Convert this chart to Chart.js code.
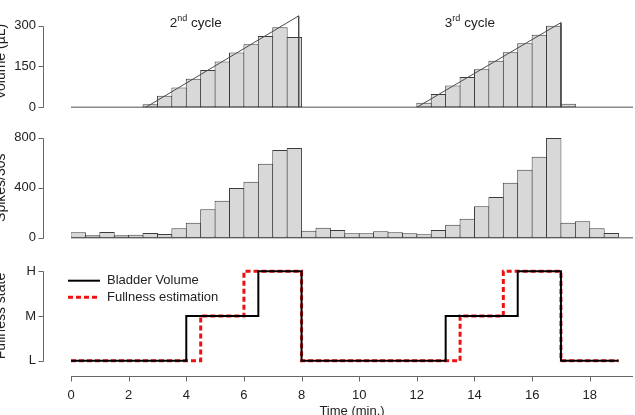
<!DOCTYPE html>
<html>
<head>
<meta charset="utf-8">
<script src="https://cdn.jsdelivr.net/npm/chart.js@4.4.1/dist/chart.umd.min.js"></script>
<style>
  html, body { margin: 0; padding: 0; background: #fff; overflow: hidden; }
  #wrap { position: relative; width: 635px; height: 415px; }
  .panel { position: absolute; left: 0; width: 635px; }
</style>
</head>
<body>
<div id="wrap">
  <div class="panel" style="top:0"><canvas id="volumeChart" width="635" height="125"></canvas></div>
  <div class="panel" style="top:125px"><canvas id="spikeChart" width="635" height="125"></canvas></div>
  <div class="panel" style="top:250px"><canvas id="stateChart" width="635" height="169"></canvas></div>
</div>
<script>
// shared time axis (min.)
var timeTicks = [0, 2, 4, 6, 8, 10, 12, 14, 16, 18];
var timeMax = 19.5;

// bladder volume in 30 s bins (bin start, min.)
var cycle2Bins = [2.5, 3, 3.5, 4, 4.5, 5, 5.5, 6, 6.5, 7, 7.5];
var cycle2Volume = [11, 42, 73, 105, 137, 168, 201, 232, 262, 294, 258];
var cycle3Bins = [12, 12.5, 13, 13.5, 14, 14.5, 15, 15.5, 16, 16.5, 17];
var cycle3Volume = [17, 49, 80, 111, 140, 171, 202, 235, 267, 300, 13];
// infused volume ramps
var ramp2Time = [2.6, 7.9, 7.9];
var ramp2Volume = [0, 336, 0];
var ramp3Time = [12, 17, 17];
var ramp3Volume = [0, 311, 0];
var volumeTicks = [0, 150, 300];

// cycle labels
var cycleNumber = ['2', '3'];
var cycleSuffix = ['nd', 'rd'];
var cycleLabelTime = [4.33, 13.84];
var cycleLabelVolume = 309;

// spikes per 30 s bin
var spikeBins = [0, 0.5, 1, 1.5, 2, 2.5, 3, 3.5, 4, 4.5, 5, 5.5, 6, 6.5, 7, 7.5, 8, 8.5, 9, 9.5,
  10, 10.5, 11, 11.5, 12, 12.5, 13, 13.5, 14, 14.5, 15, 15.5, 16, 16.5, 17, 17.5, 18, 18.5];
var spikeCounts = [43, 19, 45, 19, 24, 37, 29, 75, 120, 227, 296, 397, 448, 592, 701, 717, 56, 80, 61, 35,
  35, 51, 43, 35, 27, 61, 104, 152, 251, 325, 440, 544, 648, 797, 120, 131, 75, 37];
var spikeTicks = [0, 400, 800];

// fullness states
var stateNames = ['L', 'M', 'H'];
var bladderTime = [0, 4, 6.5, 8, 13, 15.5, 17, 19];
var bladderState = ['L', 'M', 'H', 'L', 'M', 'H', 'L', 'L'];
var fullnessTime = [0, 4.5, 6, 8, 13.5, 15, 17, 19];
var fullnessState = ['L', 'M', 'H', 'L', 'M', 'H', 'L', 'L'];

var binWidth = 0.5;
var barFill = '#d8d8d8';
var barEdge = '#3c3c3c';
var axisColor = '#666';
var textColor = '#222';

Chart.defaults.font.family = '"Liberation Sans", Arial, sans-serif';
Chart.defaults.font.size = 13;
Chart.defaults.color = textColor;

function bars(starts, values) {
  return starts.map(function (s, i) { return { x: s + binWidth / 2, y: values[i] }; });
}
function points(xs, ys) {
  return xs.map(function (x, i) { return { x: x, y: ys[i] }; });
}
function fixTicks(list) {
  return function (scale) { scale.ticks = list.map(function (v) { return { value: v }; }); };
}
function noScalePadding(s) {
  s.paddingTop = 0; s.paddingBottom = 0; s.paddingLeft = 0; s.paddingRight = 0;
}

// R-like axes: line only between first and last tick, ticks outward
var rAxes = {
  id: 'rAxes',
  beforeDatasetsDraw: function (chart, args, opts) {
    if (!opts.baseline) return;
    var ctx = chart.ctx, xs = chart.scales.x, ys = chart.scales.y;
    var y0 = ys.getPixelForValue(0);
    ctx.save();
    ctx.strokeStyle = '#8a8a8a';
    ctx.lineWidth = 1.5;
    ctx.beginPath();
    ctx.moveTo(xs.getPixelForValue(0), y0);
    ctx.lineTo(xs.getPixelForValue(timeMax), y0);
    ctx.stroke();
    ctx.restore();
  },
  afterDraw: function (chart, args, opts) {
    var ctx = chart.ctx, area = chart.chartArea;
    var xs = chart.scales.x, ys = chart.scales.y;
    ctx.save();
    ctx.strokeStyle = axisColor;
    ctx.lineWidth = 1;
    ctx.beginPath();
    var ax = Math.round(area.left - 28) + 0.5;
    var yt = ys.ticks;
    ctx.moveTo(ax, Math.round(ys.getPixelForValue(yt[0].value)) + 0.5);
    ctx.lineTo(ax, Math.round(ys.getPixelForValue(yt[yt.length - 1].value)) + 0.5);
    yt.forEach(function (t) {
      var p = Math.round(ys.getPixelForValue(t.value)) + 0.5;
      ctx.moveTo(ax, p);
      ctx.lineTo(ax - 5, p);
    });
    if (opts.xAxis) {
      var ay = Math.round(area.bottom + 12) + 0.5;
      ctx.moveTo(xs.getPixelForValue(0), ay);
      ctx.lineTo(xs.getPixelForValue(timeMax), ay);
      xs.ticks.forEach(function (t) {
        var p = Math.round(xs.getPixelForValue(t.value)) + 0.5;
        ctx.moveTo(p, ay);
        ctx.lineTo(p, ay + 5);
      });
    }
    ctx.stroke();
    ctx.restore();
  }
};

var cycleLabels = {
  id: 'cycleLabels',
  afterDraw: function (chart) {
    var ctx = chart.ctx, xs = chart.scales.x, ys = chart.scales.y;
    var big = '13.5px "Liberation Sans", Arial, sans-serif';
    var small = '9px "Liberation Sans", Arial, sans-serif';
    ctx.save();
    ctx.fillStyle = textColor;
    ctx.textBaseline = 'middle';
    ctx.textAlign = 'left';
    var y = ys.getPixelForValue(cycleLabelVolume);
    cycleNumber.forEach(function (n, i) {
      ctx.font = big;
      var w1 = ctx.measureText(n).width, w3 = ctx.measureText(' cycle').width;
      ctx.font = small;
      var w2 = ctx.measureText(cycleSuffix[i]).width;
      var x = xs.getPixelForValue(cycleLabelTime[i]) - (w1 + w2 + w3) / 2;
      ctx.font = big;
      ctx.fillText(n, x, y);
      ctx.font = small;
      ctx.fillText(cycleSuffix[i], x + w1, y - 5);
      ctx.font = big;
      ctx.fillText(' cycle', x + w1 + w2, y);
    });
    ctx.restore();
  }
};

var lineLegend = {
  id: 'lineLegend',
  afterDraw: function (chart) {
    var ctx = chart.ctx, area = chart.chartArea;
    ctx.save();
    ctx.textBaseline = 'middle';
    ctx.textAlign = 'left';
    ctx.font = '13px "Liberation Sans", Arial, sans-serif';
    chart.data.datasets.forEach(function (ds, i) {
      var y = area.top + 13 + i * 16.6;
      var x = area.left - 3;
      ctx.strokeStyle = ds.borderColor;
      ctx.lineWidth = ds.borderWidth;
      ctx.setLineDash(ds.borderDash || []);
      ctx.beginPath();
      ctx.moveTo(x, y);
      ctx.lineTo(x + 32, y);
      ctx.stroke();
      ctx.setLineDash([]);
      ctx.fillStyle = textColor;
      ctx.fillText(ds.label, x + 39, y);
    });
    ctx.restore();
  }
};

function xScale(show) {
  return {
    type: 'linear', min: 0, max: timeMax, offset: false, display: show,
    afterBuildTicks: fixTicks(timeTicks),
    grid: { display: false, drawTicks: false, offset: false },
    border: { display: false },
    ticks: { padding: 23.5, maxRotation: 0, autoSkip: false },
    title: { display: show, text: 'Time (min.)', padding: { top: 0, bottom: 0 } },
    afterFit: function (s) { noScalePadding(s); if (show) s.height = 169 - 114.3; }
  };
}
function yScale(min, max, list, title, cb) {
  var t = { padding: 35 };
  if (cb) t.callback = cb;
  return {
    min: min, max: max,
    afterBuildTicks: fixTicks(list),
    grid: { display: false, drawTicks: false },
    border: { display: false },
    ticks: t,
    title: { display: true, text: title, font: { size: 14 }, padding: { top: -7, bottom: 0 } },
    afterFit: function (s) { noScalePadding(s); s.width = 71; }
  };
}
var common = {
  responsive: false,
  animation: false,
  plugins: { legend: { display: false }, tooltip: { enabled: false } }
};

new Chart(document.getElementById('volumeChart'), {
  type: 'bar',
  data: {
    datasets: [
      { type: 'line', data: points(ramp2Time, ramp2Volume), borderColor: '#4a4a4a', borderWidth: 1, pointRadius: 0, order: 0 },
      { type: 'line', data: points(ramp3Time, ramp3Volume), borderColor: '#4a4a4a', borderWidth: 1, pointRadius: 0, order: 0 },
      { data: bars(cycle2Bins, cycle2Volume).concat(bars(cycle3Bins, cycle3Volume)),
        backgroundColor: barFill, borderColor: barEdge, borderWidth: 1, borderSkipped: false,
        barPercentage: 1.07, categoryPercentage: 1, order: 1 }
    ]
  },
  options: Object.assign({}, common, {
    layout: { padding: { top: 12.6, bottom: 14.2, left: 0, right: 2 } },
    scales: { x: xScale(false), y: yScale(-13, 348, volumeTicks, 'Volume (µL)') },
    plugins: Object.assign({}, common.plugins, { rAxes: { baseline: true } })
  }),
  plugins: [rAxes, cycleLabels]
});

new Chart(document.getElementById('spikeChart'), {
  type: 'bar',
  data: {
    datasets: [
      { data: bars(spikeBins, spikeCounts), backgroundColor: barFill, borderColor: barEdge,
        borderWidth: 1, borderSkipped: false, barPercentage: 1.07, categoryPercentage: 1 }
    ]
  },
  options: Object.assign({}, common, {
    layout: { padding: { top: 8.7, bottom: 8.3, left: 0, right: 2 } },
    scales: { x: xScale(false), y: yScale(-32, 832, spikeTicks, 'Spikes/30s') },
    plugins: Object.assign({}, common.plugins, { rAxes: { baseline: true } })
  }),
  plugins: [rAxes]
});

function stateIndex(s) { return stateNames.indexOf(s) + 1; }

new Chart(document.getElementById('stateChart'), {
  type: 'line',
  data: {
    datasets: [
      { label: 'Bladder Volume', data: points(bladderTime, bladderState.map(stateIndex)), stepped: 'before',
        borderColor: '#000', borderWidth: 2, pointRadius: 0 },
      { label: 'Fullness estimation', data: points(fullnessTime, fullnessState.map(stateIndex)), stepped: 'before',
        borderColor: '#ee1111', borderWidth: 3, borderDash: [5, 3], pointRadius: 0 }
    ]
  },
  options: Object.assign({}, common, {
    layout: { padding: { top: 17.7, bottom: 0, left: 0, right: 2 } },
    scales: {
      x: xScale(true),
      y: yScale(0.92, 3.08, [1, 2, 3], 'Fullness state', function (v) { return stateNames[v - 1]; })
    },
    plugins: Object.assign({}, common.plugins, { rAxes: { xAxis: true } })
  }),
  plugins: [rAxes, lineLegend]
});
</script>
</body>
</html>
